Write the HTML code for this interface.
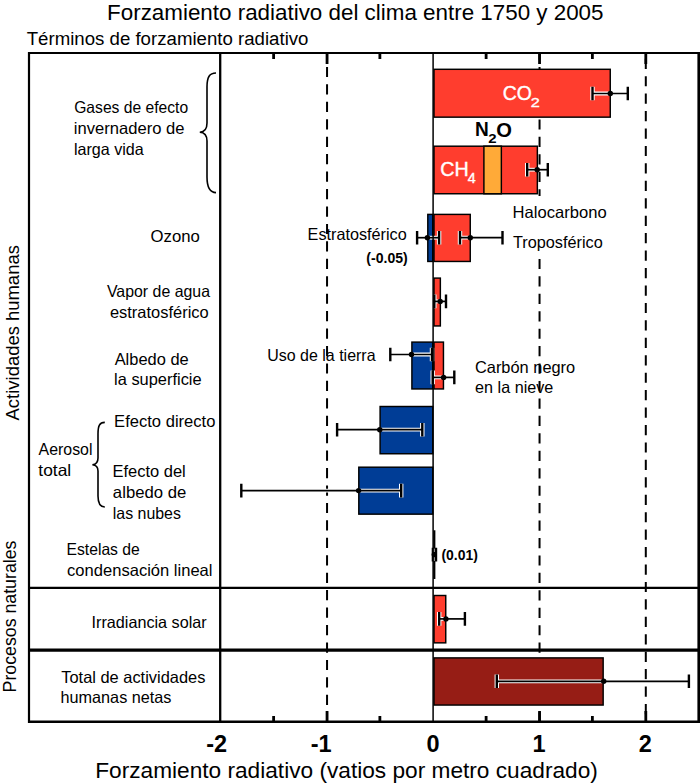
<!DOCTYPE html>
<html><head><meta charset="utf-8"><style>
html,body{margin:0;padding:0;background:#fff;width:700px;height:784px;overflow:hidden}
svg{display:block}
text{font-family:"Liberation Sans",sans-serif}
</style></head><body>
<svg width="700" height="784" viewBox="0 0 700 784">
<rect width="700" height="784" fill="#fff"/>
<path d="M327.05 54.00V59.68M327.05 66.92V77.12M327.05 84.36V94.56M327.05 101.80V112.00M327.05 119.24V129.44M327.05 136.68V146.88M327.05 154.12V164.32M327.05 171.56V181.76M327.05 189.00V199.20M327.05 206.44V216.64M327.05 223.88V234.08M327.05 241.32V251.52M327.05 258.76V268.96M327.05 276.20V286.40M327.05 293.64V303.84M327.05 311.08V321.28M327.05 328.52V338.72M327.05 345.96V356.16M327.05 363.40V373.60M327.05 380.84V391.04M327.05 398.28V408.48M327.05 415.72V425.92M327.05 433.16V443.36M327.05 450.60V460.80M327.05 468.04V478.24M327.05 485.48V495.68M327.05 502.92V513.12M327.05 520.36V530.56M327.05 537.80V548.00M327.05 555.24V565.44M327.05 572.68V582.88M327.05 590.12V600.32M327.05 607.56V617.76M327.05 625.00V635.20M327.05 642.44V652.64M327.05 659.88V670.08M327.05 677.32V687.52M327.05 694.76V704.96M327.05 712.20V721.00" stroke="#000" stroke-width="2" fill="none"/>
<path d="M539.55 54.00V59.83M539.55 67.07V77.27M539.55 84.51V94.71M539.55 101.95V112.15M539.55 119.39V129.59M539.55 136.83V147.03M539.55 154.27V164.47M539.55 171.71V181.91M539.55 189.15V199.35M539.55 206.59V216.79M539.55 224.03V234.23M539.55 241.47V251.67M539.55 258.91V269.11M539.55 276.35V286.55M539.55 293.79V303.99M539.55 311.23V321.43M539.55 328.67V338.87M539.55 346.11V356.31M539.55 363.55V373.75M539.55 380.99V391.19M539.55 398.43V408.63M539.55 415.87V426.07M539.55 433.31V443.51M539.55 450.75V460.95M539.55 468.19V478.39M539.55 485.63V495.83M539.55 503.07V513.27M539.55 520.51V530.71M539.55 537.95V548.15M539.55 555.39V565.59M539.55 572.83V583.03M539.55 590.27V600.47M539.55 607.71V617.91M539.55 625.15V635.35M539.55 642.59V652.79M539.55 660.03V670.23M539.55 677.47V687.67M539.55 694.91V705.11M539.55 712.35V721.00" stroke="#000" stroke-width="2" fill="none"/>
<path d="M645.80 58.72V68.92M645.80 76.16V86.36M645.80 93.60V103.80M645.80 111.04V121.24M645.80 128.48V138.68M645.80 145.92V156.12M645.80 163.36V173.56M645.80 180.80V191.00M645.80 198.24V208.44M645.80 215.68V225.88M645.80 233.12V243.32M645.80 250.56V260.76M645.80 268.00V278.20M645.80 285.44V295.64M645.80 302.88V313.08M645.80 320.32V330.52M645.80 337.76V347.96M645.80 355.20V365.40M645.80 372.64V382.84M645.80 390.08V400.28M645.80 407.52V417.72M645.80 424.96V435.16M645.80 442.40V452.60M645.80 459.84V470.04M645.80 477.28V487.48M645.80 494.72V504.92M645.80 512.16V522.36M645.80 529.60V539.80M645.80 547.04V557.24M645.80 564.48V574.68M645.80 581.92V592.12M645.80 599.36V609.56M645.80 616.80V627.00M645.80 634.24V644.44M645.80 651.68V661.88M645.80 669.12V679.32M645.80 686.56V696.76M645.80 704.00V714.20" stroke="#000" stroke-width="2" fill="none"/>
<rect x="509" y="196" width="100" height="61" fill="#fff"/>
<path d="M327.05 53V64M327.05 711V722" stroke="#000" stroke-width="2.8"/>
<path d="M539.55 53V64M539.55 711V722" stroke="#000" stroke-width="2.8"/>
<path d="M645.80 53V64M645.80 711V722" stroke="#000" stroke-width="2.8"/>
<path d="M273.62 53V59M273.62 716V722" stroke="#000" stroke-width="2.8"/>
<path d="M379.88 53V59M379.88 716V722" stroke="#000" stroke-width="2.8"/>
<path d="M486.12 53V59M486.12 716V722" stroke="#000" stroke-width="2.8"/>
<path d="M592.38 53V59M592.38 716V722" stroke="#000" stroke-width="2.8"/>
<rect x="434.00" y="69.30" width="176.25" height="47.85" fill="#FF3D2E" stroke="#000" stroke-width="1.45"/>
<rect x="434.00" y="146.20" width="103.35" height="47.55" fill="#FF3D2E" stroke="#000" stroke-width="1.45"/>
<rect x="483.90" y="146.20" width="17.45" height="47.55" fill="#FFAA38" stroke="#000" stroke-width="1.45"/>
<rect x="427.80" y="214.40" width="4.95" height="47.05" fill="#003D96" stroke="#000" stroke-width="1.45"/>
<rect x="434.00" y="214.40" width="36.25" height="47.05" fill="#FF3D2E" stroke="#000" stroke-width="1.45"/>
<rect x="434.00" y="278.10" width="6.35" height="47.85" fill="#FF3D2E" stroke="#000" stroke-width="1.45"/>
<rect x="411.90" y="342.10" width="20.85" height="46.85" fill="#003D96" stroke="#000" stroke-width="1.45"/>
<rect x="434.00" y="342.10" width="9.45" height="46.85" fill="#FF3D2E" stroke="#000" stroke-width="1.45"/>
<rect x="380.10" y="406.50" width="52.65" height="47.25" fill="#003D96" stroke="#000" stroke-width="1.45"/>
<rect x="358.80" y="467.20" width="73.95" height="46.95" fill="#003D96" stroke="#000" stroke-width="1.45"/>
<rect x="434.00" y="531.00" width="0.65" height="47.25" fill="#FF3D2E" stroke="#000" stroke-width="1.45"/>
<rect x="434.00" y="595.50" width="11.75" height="47.35" fill="#FF3D2E" stroke="#000" stroke-width="1.45"/>
<rect x="434.00" y="657.90" width="169.15" height="47.15" fill="#961D15" stroke="#000" stroke-width="1.45"/>
<path d="M220.2 53V722" stroke="#000" stroke-width="2.3"/>
<path d="M592.50 93.50H627.80" stroke="#fff" stroke-width="3.8" fill="none"/>
<path d="M592.50 86.70V100.30M627.80 86.70V100.30" stroke="#fff" stroke-width="4.4" fill="none"/>
<path d="M527.20 169.70H547.80" stroke="#fff" stroke-width="3.8" fill="none"/>
<path d="M527.20 162.90V176.50M547.80 162.90V176.50" stroke="#fff" stroke-width="4.4" fill="none"/>
<path d="M417.10 237.70H439.10" stroke="#fff" stroke-width="3.8" fill="none"/>
<path d="M417.10 230.90V244.50M439.10 230.90V244.50" stroke="#fff" stroke-width="4.4" fill="none"/>
<path d="M460.00 237.70H502.50" stroke="#fff" stroke-width="3.8" fill="none"/>
<path d="M460.00 230.90V244.50M502.50 230.90V244.50" stroke="#fff" stroke-width="4.4" fill="none"/>
<path d="M434.30 301.40H446.00" stroke="#fff" stroke-width="3.8" fill="none"/>
<path d="M434.30 294.60V308.20M446.00 294.60V308.20" stroke="#fff" stroke-width="4.4" fill="none"/>
<path d="M390.30 354.50H432.00" stroke="#fff" stroke-width="3.8" fill="none"/>
<path d="M390.30 347.70V361.30M432.00 347.70V361.30" stroke="#fff" stroke-width="4.4" fill="none"/>
<path d="M432.70 377.40H454.30" stroke="#fff" stroke-width="3.8" fill="none"/>
<path d="M432.70 370.60V384.20M454.30 370.60V384.20" stroke="#fff" stroke-width="4.4" fill="none"/>
<path d="M337.10 429.70H422.30" stroke="#fff" stroke-width="3.8" fill="none"/>
<path d="M337.10 422.90V436.50M422.30 422.90V436.50" stroke="#fff" stroke-width="4.4" fill="none"/>
<path d="M241.30 490.60H401.20" stroke="#fff" stroke-width="3.8" fill="none"/>
<path d="M241.30 483.80V497.40M401.20 483.80V497.40" stroke="#fff" stroke-width="4.4" fill="none"/>
<path d="M439.20 618.90H464.90" stroke="#fff" stroke-width="3.8" fill="none"/>
<path d="M439.20 612.10V625.70M464.90 612.10V625.70" stroke="#fff" stroke-width="4.4" fill="none"/>
<path d="M496.80 681.30H688.90" stroke="#fff" stroke-width="3.8" fill="none"/>
<path d="M496.80 674.50V688.10M688.90 674.50V688.10" stroke="#fff" stroke-width="4.4" fill="none"/>
<path d="M433.1 53V722" stroke="#000" stroke-width="1.5"/>
<path d="M592.50 93.50H627.80" stroke="#000" stroke-width="1.7" fill="none"/>
<path d="M592.50 86.70V100.30M627.80 86.70V100.30" stroke="#000" stroke-width="2.4" fill="none"/>
<circle cx="610.30" cy="93.50" r="2.7" fill="#000"/>
<path d="M527.20 169.70H547.80" stroke="#000" stroke-width="1.7" fill="none"/>
<path d="M527.20 162.90V176.50M547.80 162.90V176.50" stroke="#000" stroke-width="2.4" fill="none"/>
<circle cx="537.20" cy="169.70" r="2.7" fill="#000"/>
<path d="M417.10 237.70H439.10" stroke="#000" stroke-width="1.7" fill="none"/>
<path d="M417.10 230.90V244.50M439.10 230.90V244.50" stroke="#000" stroke-width="2.4" fill="none"/>
<circle cx="427.40" cy="237.70" r="2.7" fill="#000"/>
<path d="M460.00 237.70H502.50" stroke="#000" stroke-width="1.7" fill="none"/>
<path d="M460.00 230.90V244.50M502.50 230.90V244.50" stroke="#000" stroke-width="2.4" fill="none"/>
<circle cx="470.30" cy="237.70" r="2.7" fill="#000"/>
<path d="M434.30 301.40H446.00" stroke="#000" stroke-width="1.7" fill="none"/>
<path d="M434.30 294.60V308.20M446.00 294.60V308.20" stroke="#000" stroke-width="2.4" fill="none"/>
<circle cx="440.20" cy="301.40" r="2.7" fill="#000"/>
<path d="M390.30 354.50H432.00" stroke="#000" stroke-width="1.7" fill="none"/>
<path d="M390.30 347.70V361.30M432.00 347.70V361.30" stroke="#000" stroke-width="2.4" fill="none"/>
<circle cx="411.50" cy="354.50" r="2.7" fill="#000"/>
<path d="M432.70 377.40H454.30" stroke="#000" stroke-width="1.7" fill="none"/>
<path d="M432.70 370.60V384.20M454.30 370.60V384.20" stroke="#000" stroke-width="2.4" fill="none"/>
<circle cx="443.60" cy="377.40" r="2.7" fill="#000"/>
<path d="M337.10 429.70H422.30" stroke="#000" stroke-width="1.7" fill="none"/>
<path d="M337.10 422.90V436.50M422.30 422.90V436.50" stroke="#000" stroke-width="2.4" fill="none"/>
<circle cx="379.80" cy="429.70" r="2.7" fill="#000"/>
<path d="M241.30 490.60H401.20" stroke="#000" stroke-width="1.7" fill="none"/>
<path d="M241.30 483.80V497.40M401.20 483.80V497.40" stroke="#000" stroke-width="2.4" fill="none"/>
<circle cx="358.60" cy="490.60" r="2.7" fill="#000"/>
<path d="M432.90 554.60H436.00" stroke="#000" stroke-width="1.7" fill="none"/>
<path d="M432.90 547.80V561.40M436.00 547.80V561.40" stroke="#000" stroke-width="2.4" fill="none"/>
<circle cx="434.30" cy="554.60" r="2.7" fill="#000"/>
<path d="M439.20 618.90H464.90" stroke="#000" stroke-width="1.7" fill="none"/>
<path d="M439.20 612.10V625.70M464.90 612.10V625.70" stroke="#000" stroke-width="2.4" fill="none"/>
<circle cx="445.90" cy="618.90" r="2.7" fill="#000"/>
<path d="M496.80 681.30H688.90" stroke="#000" stroke-width="1.7" fill="none"/>
<path d="M496.80 674.50V688.10M688.90 674.50V688.10" stroke="#000" stroke-width="2.4" fill="none"/>
<circle cx="603.70" cy="681.30" r="2.7" fill="#000"/>
<path d="M434.4 548.6V552M434.4 557.2V561" stroke="#aaa" stroke-width="0.9"/>
<path d="M29 52V723" stroke="#000" stroke-width="2.2"/>
<path d="M28 53H700" stroke="#000" stroke-width="2.2"/>
<path d="M28 721.8H700" stroke="#000" stroke-width="2.4"/>
<path d="M698.7 52V723" stroke="#000" stroke-width="2.6"/>
<path d="M28 587.8H700" stroke="#000" stroke-width="2.3"/>
<path d="M28 650.2H700" stroke="#000" stroke-width="3.2"/>
<path d="M216 73C209.5 73 207 77 207 87V123C207 129 204 132 199.8 132.2C204 132.4 207 135.5 207 141V177C207 187 209.5 192.6 216 192.6" stroke="#000" stroke-width="1.6" fill="none"/>
<path d="M104.8 422.4C99.5 422.4 98 426 98 434V458C98 462 96 464.5 92.4 464.8C96 465.1 98 467.5 98 471V496C98 503 99.5 507 104.8 507" stroke="#000" stroke-width="1.6" fill="none"/>
<text x="107.06" y="20.00" font-size="22.80" font-weight="normal" fill="#000" textLength="496.48" lengthAdjust="spacingAndGlyphs">Forzamiento radiativo del clima entre 1750 y 2005</text>
<text x="26.68" y="45.00" font-size="18.80" font-weight="normal" fill="#000" textLength="281.80" lengthAdjust="spacingAndGlyphs">Términos de forzamiento radiativo</text>
<text x="74.21" y="112.80" font-size="16.50" font-weight="normal" fill="#000" textLength="113.94" lengthAdjust="spacingAndGlyphs">Gases de efecto</text>
<text x="73.89" y="133.60" font-size="16.50" font-weight="normal" fill="#000" textLength="110.65" lengthAdjust="spacingAndGlyphs">invernadero de</text>
<text x="73.91" y="154.60" font-size="16.50" font-weight="normal" fill="#000" textLength="69.89" lengthAdjust="spacingAndGlyphs">larga vida</text>
<text x="150.61" y="241.90" font-size="16.50" font-weight="normal" fill="#000" textLength="49.30" lengthAdjust="spacingAndGlyphs">Ozono</text>
<text x="307.57" y="240.00" font-size="16.50" font-weight="normal" fill="#000" textLength="99.11" lengthAdjust="spacingAndGlyphs">Estratosférico</text>
<text x="512.64" y="218.00" font-size="16.50" font-weight="normal" fill="#000" textLength="94.06" lengthAdjust="spacingAndGlyphs">Halocarbono</text>
<text x="512.94" y="248.00" font-size="16.50" font-weight="normal" fill="#000" textLength="89.74" lengthAdjust="spacingAndGlyphs">Troposférico</text>
<text x="106.93" y="297.00" font-size="16.50" font-weight="normal" fill="#000" textLength="103.07" lengthAdjust="spacingAndGlyphs">Vapor de agua</text>
<text x="109.90" y="318.00" font-size="16.50" font-weight="normal" fill="#000" textLength="98.79" lengthAdjust="spacingAndGlyphs">estratosférico</text>
<text x="114.67" y="364.80" font-size="16.50" font-weight="normal" fill="#000" textLength="74.06" lengthAdjust="spacingAndGlyphs">Albedo de</text>
<text x="114.09" y="384.80" font-size="16.50" font-weight="normal" fill="#000" textLength="87.53" lengthAdjust="spacingAndGlyphs">la superficie</text>
<text x="267.17" y="361.00" font-size="16.50" font-weight="normal" fill="#000" textLength="108.43" lengthAdjust="spacingAndGlyphs">Uso de la tierra</text>
<text x="474.97" y="372.60" font-size="16.50" font-weight="normal" fill="#000" textLength="100.22" lengthAdjust="spacingAndGlyphs">Carbón negro</text>
<text x="475.11" y="392.90" font-size="16.50" font-weight="normal" fill="#000" textLength="78.21" lengthAdjust="spacingAndGlyphs">en la nieve</text>
<text x="114.14" y="427.00" font-size="16.50" font-weight="normal" fill="#000" textLength="101.25" lengthAdjust="spacingAndGlyphs">Efecto directo</text>
<text x="38.57" y="455.00" font-size="16.50" font-weight="normal" fill="#000" textLength="53.89" lengthAdjust="spacingAndGlyphs">Aerosol</text>
<text x="38.34" y="475.70" font-size="16.50" font-weight="normal" fill="#000" textLength="32.82" lengthAdjust="spacingAndGlyphs">total</text>
<text x="112.45" y="477.00" font-size="16.50" font-weight="normal" fill="#000" textLength="73.36" lengthAdjust="spacingAndGlyphs">Efecto del</text>
<text x="112.89" y="498.00" font-size="16.50" font-weight="normal" fill="#000" textLength="73.45" lengthAdjust="spacingAndGlyphs">albedo de</text>
<text x="112.73" y="519.00" font-size="16.50" font-weight="normal" fill="#000" textLength="68.25" lengthAdjust="spacingAndGlyphs">las nubes</text>
<text x="66.51" y="554.70" font-size="16.50" font-weight="normal" fill="#000" textLength="73.28" lengthAdjust="spacingAndGlyphs">Estelas de</text>
<text x="67.10" y="575.60" font-size="16.50" font-weight="normal" fill="#000" textLength="145.41" lengthAdjust="spacingAndGlyphs">condensación lineal</text>
<text x="91.51" y="628.00" font-size="16.50" font-weight="normal" fill="#000" textLength="115.16" lengthAdjust="spacingAndGlyphs">Irradiancia solar</text>
<text x="61.24" y="682.50" font-size="16.50" font-weight="normal" fill="#000" textLength="144.15" lengthAdjust="spacingAndGlyphs">Total de actividades</text>
<text x="60.47" y="703.30" font-size="16.50" font-weight="normal" fill="#000" textLength="111.01" lengthAdjust="spacingAndGlyphs">humanas netas</text>
<text x="366.30" y="263.00" font-size="14.40" font-weight="bold" fill="#000" textLength="41.40" lengthAdjust="spacingAndGlyphs">(-0.05)</text>
<text x="441.41" y="560.00" font-size="13.80" font-weight="bold" fill="#000" textLength="36.39" lengthAdjust="spacingAndGlyphs">(0.01)</text>
<text x="216.60" y="752.2" font-size="23.5" font-weight="bold" text-anchor="middle">-2</text>
<text x="321.25" y="752.2" font-size="23.5" font-weight="bold" text-anchor="middle">-1</text>
<text x="433.10" y="752.2" font-size="23.5" font-weight="bold" text-anchor="middle">0</text>
<text x="539.00" y="752.2" font-size="23.5" font-weight="bold" text-anchor="middle">1</text>
<text x="645.20" y="752.2" font-size="23.5" font-weight="bold" text-anchor="middle">2</text>
<text x="95.24" y="778.00" font-size="22.80" font-weight="normal" fill="#000" textLength="502.56" lengthAdjust="spacingAndGlyphs">Forzamiento radiativo (vatios por metro cuadrado)</text>
<text transform="translate(18.70 420.40) rotate(-90)" x="-0.04" y="0" font-size="18.80" textLength="175.30" lengthAdjust="spacingAndGlyphs">Actividades humanas</text>
<text transform="translate(16.10 691.00) rotate(-90)" x="-1.46" y="0" font-size="18.80" textLength="151.90" lengthAdjust="spacingAndGlyphs">Procesos naturales</text>
<text x="502.71" y="99.80" font-size="20.00" font-weight="normal" fill="#fff" textLength="29.11" lengthAdjust="spacingAndGlyphs" stroke="#fff" stroke-width="0.4">CO</text>
<text x="530.78" y="106.90" font-size="13.70" font-weight="normal" fill="#fff" textLength="9.03" lengthAdjust="spacingAndGlyphs" stroke="#fff" stroke-width="0.4">2</text>
<text x="440.30" y="176.10" font-size="20.00" font-weight="normal" fill="#fff" textLength="28.40" lengthAdjust="spacingAndGlyphs" stroke="#fff" stroke-width="0.4">CH</text>
<text x="467.77" y="183.00" font-size="14.30" font-weight="normal" fill="#fff" textLength="7.95" lengthAdjust="spacingAndGlyphs" stroke="#fff" stroke-width="0.4">4</text>
<text x="475.03" y="135.70" font-size="19.80" font-weight="bold" fill="#000" textLength="13.76" lengthAdjust="spacingAndGlyphs">N</text>
<text x="488.38" y="142.90" font-size="13.60" font-weight="bold" fill="#000" textLength="8.32" lengthAdjust="spacingAndGlyphs">2</text>
<text x="496.27" y="136.60" font-size="19.80" font-weight="bold" fill="#000" textLength="15.67" lengthAdjust="spacingAndGlyphs">O</text>
</svg>
</body></html>
